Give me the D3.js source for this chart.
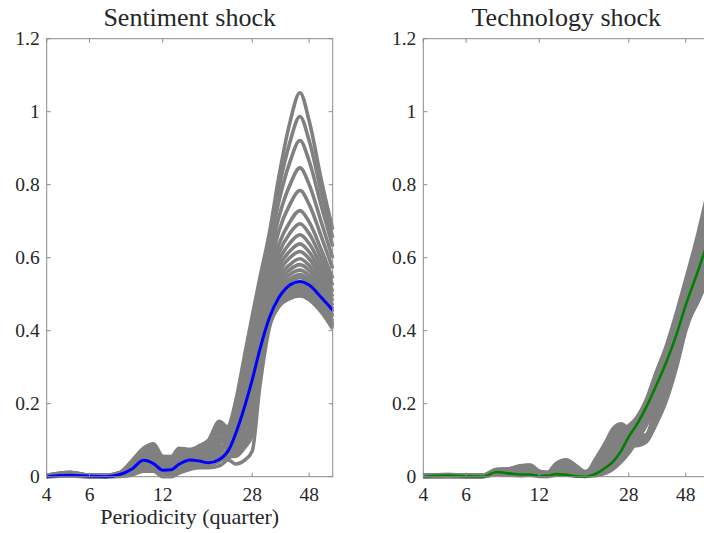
<!DOCTYPE html>
<html><head><meta charset="utf-8">
<script src="https://cdn.jsdelivr.net/npm/d3@7"></script>
<style>
body{margin:0;background:#fff}
svg{display:block}
</style>
</head><body>
<svg id="c" width="704" height="533" font-family="'Liberation Serif', 'DejaVu Serif', serif"></svg>
<script>
// ---- data ----
const periods = [4,5,6,7,8,9,10,11,12,13,14,15.5,17,18.5,20.5,22.5,24,26,28,30,33,36,40,44,48,54,60];
const xTicks = [4,6,12,28,48];
const yTicks = [0,0.2,0.4,0.6,0.8,1,1.2];
const titles = ["Sentiment shock","Technology shock"];
const xLabel = "Periodicity (quarter)";

const sentimentMedian = [0,.004,.001,0,.006,.022,.045,.036,.018,.019,.034,.046,.043,.038,.047,.075,.12,.19,.265,.345,.437,.49,.525,.535,.525,.49,.456];

const sentimentDraws = [
 [.003,.009,.003,.003,.009,.033,.059,.068,.039,.039,.058,.059,.067,.078,.115,.14,.21,.33,.44,.54,.67,.82,.97,1.052,.975,.81,.677],
 [.004,.012,.004,.004,.012,.045,.078,.09,.056,.055,.078,.075,.085,.1,.152,.133,.20,.313,.418,.522,.653,.789,.916,.987,.921,.776,.655],
 [.002,.007,.002,.002,.007,.025,.047,.053,.028,.028,.044,.048,.055,.063,.091,.126,.188,.294,.394,.503,.631,.753,.862,.921,.865,.739,.631],
 [.003,.011,.003,.003,.010,.039,.069,.079,.048,.047,.068,.067,.076,.089,.134,.117,.173,.27,.362,.477,.601,.71,.799,.846,.801,.695,.599],
 [.001,.005,.001,.001,.004,.017,.034,.038,.017,.017,.03,.037,.043,.048,.067,.109,.161,.25,.336,.456,.573,.672,.746,.784,.746,.656,.571],
 [.003,.009,.003,.003,.008,.031,.056,.064,.036,.036,.054,.056,.064,.074,.109,.10,.149,.23,.311,.435,.547,.636,.698,.729,.698,.62,.543],
 [.004,.011,.004,.004,.011,.041,.072,.083,.05,.05,.071,.07,.079,.093,.14,.12,.14,.216,.292,.42,.529,.612,.667,.693,.666,.596,.524],
 [.002,.006,.002,.002,.005,.021,.04,.045,.022,.022,.037,.042,.049,.055,.079,.09,.131,.202,.274,.405,.512,.591,.64,.663,.639,.575,.507],
 [.003,.010,.003,.003,.009,.035,.062,.071,.042,.041,.061,.061,.07,.081,.122,.105,.124,.19,.259,.393,.498,.574,.618,.638,.616,.557,.493],
 [.001,.004,.001,.001,.003,.013,.028,.03,.011,.011,.024,.031,.037,.04,.054,.082,.117,.179,.244,.381,.486,.558,.60,.617,.597,.542,.481],
 [.002,.008,.002,.002,.007,.027,.05,.056,.031,.03,.047,.05,.058,.066,.097,.085,.11,.168,.229,.369,.475,.544,.581,.597,.579,.528,.469],
 [.004,.012,.004,.004,.011,.043,.075,.086,.053,.052,.075,.072,.082,.096,.146,.125,.103,.156,.214,.357,.465,.532,.567,.581,.565,.516,.46],
 [0,.003,0,0,.002,.009,.021,.023,.006,.006,.017,.026,.031,.033,.042,.07,.098,.148,.203,.348,.456,.521,.554,.566,.551,.504,.451],
 [.002,.008,.002,.002,.008,.029,.053,.06,.034,.033,.051,.053,.061,.07,.103,.09,.093,.139,.192,.339,.449,.511,.542,.554,.54,.495,.443],
 [.001,.006,.001,.001,.005,.019,.037,.041,.02,.019,.034,.039,.046,.051,.073,.065,.088,.131,.181,.33,.443,.505,.534,.545,.531,.488,.437],
 [.003,.010,.003,.003,.010,.037,.065,.075,.045,.044,.064,.064,.073,.085,.128,.11,.077,.113,.159,.312,.432,.491,.518,.527,.515,.475,.426],
 [0,.002,0,0,.001,.005,.015,.015,0,0,.01,.02,.025,.025,.03,.052,.07,.102,.144,.30,.426,.483,.509,.518,.507,.468,.42],
 [.002,.007,.002,.002,.006,.023,.043,.049,.025,.025,.041,.045,.052,.059,.085,.075,.063,.091,.129,.288,.421,.477,.502,.51,.499,.462,.415],
 [.001,.005,.001,.001,.004,.015,.031,.034,.014,.014,.027,.034,.04,.044,.061,.055,.056,.079,.114,.276,.416,.472,.495,.503,.492,.456,.41],
 [.001,.004,.001,.001,.003,.011,.024,.026,.008,.008,.02,.028,.034,.036,.048,.045,.035,.045,.07,.24,.41,.465,.488,.495,.485,.45,.405]
];

const technologyMedian = [0,.003,.001,0,.013,.009,.006,.006,.002,.003,.007,.005,.001,0,.008,.025,.04,.07,.11,.14,.19,.245,.315,.39,.47,.565,.655];

const technologyDraws = [
 [.001,.002,.001,.001,.01,.009,.01,.011,.005,.004,.012,.015,.009,.004,.015,.045,.075,.095,.085,.085,.095,.14,.21,.30,.40,.49,.56],
 [.003,.005,.003,.003,.017,.018,.024,.026,.012,.01,.028,.037,.024,.011,.019,.051,.081,.101,.09,.088,.097,.144,.216,.306,.406,.497,.568],
 [0,.001,0,0,.007,.005,.005,.005,.002,.001,.005,.006,.003,.001,.023,.056,.087,.106,.095,.091,.099,.149,.221,.311,.411,.503,.575],
 [.002,.004,.002,.002,.014,.014,.019,.02,.009,.007,.022,.028,.018,.008,.027,.062,.093,.112,.1,.093,.102,.153,.227,.317,.417,.51,.583],
 [.004,.006,.004,.004,.02,.022,.03,.032,.015,.012,.035,.046,.03,.014,.03,.067,.099,.117,.105,.096,.104,.158,.232,.322,.422,.516,.591],
 [.002,.002,.002,.002,.011,.011,.013,.014,.006,.005,.015,.02,.012,.006,.035,.073,.106,.123,.11,.099,.106,.162,.238,.328,.428,.524,.599],
 [.004,.005,.004,.004,.019,.02,.027,.029,.014,.011,.032,.042,.027,.013,.038,.079,.112,.129,.115,.102,.108,.167,.244,.334,.434,.53,.607],
 [.001,.001,.001,.001,.008,.007,.008,.008,.003,.002,.009,.011,.006,.003,.042,.084,.118,.134,.12,.105,.111,.171,.249,.339,.439,.537,.615],
 [.003,.004,.003,.003,.016,.016,.022,.023,.011,.008,.025,.033,.021,.01,.046,.09,.124,.14,.125,.107,.113,.176,.255,.345,.445,.543,.622],
 [.002,.003,.002,.002,.013,.013,.016,.017,.008,.006,.019,.024,.015,.007,.05,.095,.13,.145,.13,.11,.115,.18,.26,.35,.45,.55,.63],
 [.001,.001,.001,.001,.007,.006,.006,.007,.002,.002,.007,.009,.005,.002,.003,.01,.02,.04,.065,.095,.14,.19,.255,.33,.41,.48,.55],
 [.002,.003,.002,.002,.013,.013,.017,.019,.008,.007,.02,.026,.017,.008,.005,.014,.027,.049,.073,.102,.148,.2,.267,.343,.424,.503,.582],
 [.003,.005,.003,.003,.018,.019,.026,.028,.013,.01,.03,.039,.026,.012,.007,.019,.034,.058,.082,.109,.155,.21,.278,.356,.439,.526,.614],
 [0,0,0,0,.006,.004,.003,.004,.001,.001,.004,.004,.002,.001,.009,.023,.041,.066,.09,.116,.163,.22,.29,.37,.453,.549,.646],
 [.001,.002,.001,.001,.01,.01,.012,.013,.005,.004,.014,.017,.011,.005,.01,.028,.049,.075,.098,.124,.171,.23,.301,.383,.467,.572,.678],
 [.004,.006,.004,.004,.019,.021,.029,.031,.014,.011,.033,.044,.029,.013,.013,.032,.056,.085,.107,.131,.179,.24,.314,.397,.483,.598,.712],
 [.001,.002,.001,.001,.009,.008,.009,.01,.004,.003,.01,.013,.008,.004,.014,.037,.064,.094,.115,.139,.187,.25,.325,.41,.497,.615,.735],
 [.003,.004,.003,.003,.015,.015,.02,.022,.01,.008,.023,.031,.02,.009,.016,.041,.071,.102,.124,.146,.195,.26,.337,.424,.511,.632,.755],
 [.002,.003,.002,.002,.012,.012,.015,.016,.007,.005,.017,.022,.014,.006,.018,.046,.078,.111,.132,.153,.202,.27,.348,.437,.526,.65,.778],
 [.003,.005,.003,.003,.016,.017,.023,.025,.011,.009,.027,.035,.023,.011,.02,.05,.085,.12,.14,.16,.21,.28,.36,.45,.54,.668,.80]
];

const panels = [
  {title: titles[0], draws: sentimentDraws, median: sentimentMedian, color: "#0000ff", medianWidth: 3, left: 46.7, showXLabel: true},
  {title: titles[1], draws: technologyDraws, median: technologyMedian, color: "#008000", medianWidth: 2.6, left: 423.3, showXLabel: false}
];

// ---- drawing ----
const svg = d3.select("#c");
const plotTop = 38.7, plotBottom = 476.7, plotWidth = 286;
const axisColor = "#8a8a8a";
const textColor = "#262626";

panels.forEach(p => {
  const x = d3.scaleLog().domain([4, 60]).range([p.left, p.left + plotWidth]);
  const y = d3.scaleLinear().domain([0, 1.2]).range([plotBottom, plotTop]);
  const g = svg.append("g");
  const line = d3.line()
    .x((d, i) => x(periods[i]))
    .y(d => y(d))
    .curve(d3.curveMonotoneX);

  g.append("g").selectAll("path").data(p.draws).join("path")
    .attr("d", line)
    .attr("fill", "none")
    .attr("stroke", "#808080")
    .attr("stroke-width", 3.6)
    .attr("stroke-linejoin", "round");

  g.append("path").datum(p.median)
    .attr("d", line)
    .attr("fill", "none")
    .attr("stroke", p.color)
    .attr("stroke-width", p.medianWidth);

  g.append("rect")
    .attr("x", x(4)).attr("y", plotTop)
    .attr("width", x(60) - x(4)).attr("height", plotBottom - plotTop)
    .attr("fill", "none").attr("stroke", axisColor).attr("stroke-width", 1);

  const tl = 4;
  xTicks.forEach(t => {
    g.append("line").attr("x1", x(t)).attr("x2", x(t)).attr("y1", plotBottom).attr("y2", plotBottom - tl).attr("stroke", axisColor);
    g.append("line").attr("x1", x(t)).attr("x2", x(t)).attr("y1", plotTop).attr("y2", plotTop + tl).attr("stroke", axisColor);
    g.append("text").attr("x", x(t)).attr("y", 501).attr("text-anchor", "middle")
      .attr("font-size", 19.5).attr("fill", textColor).text(t);
  });
  yTicks.forEach(t => {
    g.append("line").attr("x1", x(4)).attr("x2", x(4) + tl).attr("y1", y(t)).attr("y2", y(t)).attr("stroke", axisColor);
    g.append("line").attr("x1", x(60)).attr("x2", x(60) - tl).attr("y1", y(t)).attr("y2", y(t)).attr("stroke", axisColor);
    g.append("text").attr("x", x(4) - 7).attr("y", y(t)).attr("dy", "0.34em").attr("text-anchor", "end")
      .attr("font-size", 19.5).attr("fill", textColor).text(d3.format("")(t));
  });

  g.append("text").attr("x", p.left + plotWidth / 2).attr("y", 26).attr("text-anchor", "middle")
    .attr("font-size", 26).attr("fill", textColor).text(p.title);

  if (p.showXLabel) {
    g.append("text").attr("x", p.left + plotWidth / 2).attr("y", 524).attr("text-anchor", "middle")
      .attr("font-size", 22).attr("fill", textColor).text(xLabel);
  }
});
</script>
</body></html>
